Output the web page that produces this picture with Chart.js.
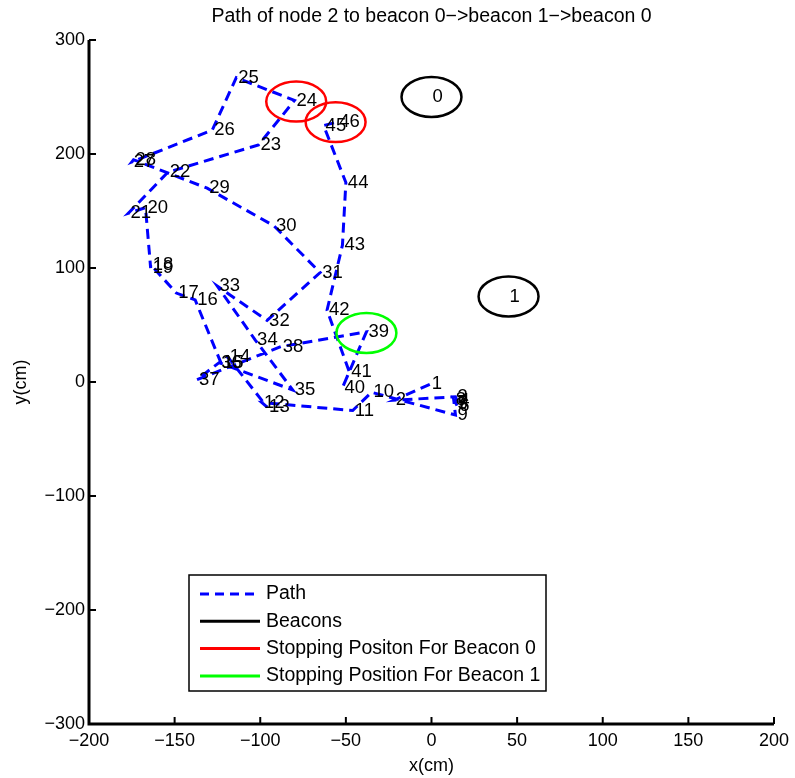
<!DOCTYPE html>
<html>
<head>
<meta charset="utf-8">
<script src="https://cdn.jsdelivr.net/npm/chart.js@4.4.1/dist/chart.umd.min.js"></script>
<style>
  html, body { margin: 0; padding: 0; background: #fff; }
  #c { display: block; }
</style>
</head>
<body>
<canvas id="c" width="795" height="778"></canvas>
<script>
// ---- Data ----
const nodeLabels = ["1","2","3","4","5","6","7","8","9","10","11","12","13","14","15","16","17","18","19","20","21","22","23","24","25","26","27","28","29","30","31","32","33","34","35","36","37","38","39","40","41","42","43","44","45","46"];
const pathX = [-1,-22,14,15,14,15,14,13,14,-35,-46,-99,-96,-119,-123,-138,-149,-164,-164,-167,-177,-154,-101,-80,-114,-128,-175,-174,-131,-92,-65,-96,-125,-103,-81,-124,-137,-88,-38,-52,-48,-61,-52,-50,-63,-55];
const pathY = [-2,-16,-13,-17,-19,-21,-18,-16,-29,-9,-25,-18,-22,22,17,72,78,103,100,153,148,184,208,247,267,221,193,195,170,137,96,54,84,37,-7,17,2,31,44,-5,9,63,120,175,225,228];

const beaconLabels = ["0","1"];
const beaconX = [0, 45];
const beaconY = [250, 75];
const beaconR = [17.5, 17.5];

const stop0X = [-79, -56];
const stop0Y = [246, 228];
const stop1X = [-38];
const stop1Y = [43];
const stopR = 17.5;

const xTicks = [-200,-150,-100,-50,0,50,100,150,200];
const yTicks = [-300,-200,-100,0,100,200,300];

const titleText = "Path of node 2 to beacon 0\u2212>beacon 1\u2212>beacon 0";
const legendItems = [
  {text: "Path", color: "#0000ff", dash: [9, 6]},
  {text: "Beacons", color: "#000000", dash: []},
  {text: "Stopping Positon For Beacon 0", color: "#ff0000", dash: []},
  {text: "Stopping Position For Beacon 1", color: "#00ff00", dash: []}
];

const FONT = "'Liberation Sans', Arial, Helvetica, sans-serif";
const fmt = v => (v < 0 ? "\u2212" + Math.abs(v) : String(v));

const pathData = pathX.map((x, i) => ({x: x, y: pathY[i]}));

const overlay = {
  id: 'overlay',
  afterDatasetsDraw(chart) {
    const ctx = chart.ctx;
    const xs = chart.scales.x, ys = chart.scales.y;
    ctx.save();
    ctx.fillStyle = '#000';
    ctx.font = '18.5px ' + FONT;
    ctx.textAlign = 'left';
    ctx.textBaseline = 'middle';
    pathX.forEach((x, i) => {
      ctx.fillText(nodeLabels[i], xs.getPixelForValue(x) + 2, ys.getPixelForValue(pathY[i]));
    });
    const ell = (cx, cy, r, color) => {
      const px = xs.getPixelForValue(cx), py = ys.getPixelForValue(cy);
      const rx = Math.abs(xs.getPixelForValue(cx + r) - px);
      const ry = Math.abs(ys.getPixelForValue(cy + r) - py);
      ctx.beginPath();
      ctx.ellipse(px, py, rx, ry, 0, 0, Math.PI * 2);
      ctx.strokeStyle = color;
      ctx.lineWidth = 2.5;
      ctx.setLineDash([]);
      ctx.stroke();
    };
    beaconX.forEach((x, i) => {
      ell(x, beaconY[i], beaconR[i], '#000');
      ctx.fillStyle = '#000';
      ctx.fillText(beaconLabels[i], xs.getPixelForValue(x) + 1, ys.getPixelForValue(beaconY[i]));
    });
    stop0X.forEach((x, i) => ell(x, stop0Y[i], stopR, '#ff0000'));
    stop1X.forEach((x, i) => ell(x, stop1Y[i], stopR, '#00ff00'));
    ctx.restore();
  },
  afterDraw(chart) {
    const ctx = chart.ctx;
    const xs = chart.scales.x, ys = chart.scales.y;
    const a = chart.chartArea;
    ctx.save();
    ctx.strokeStyle = '#000';
    ctx.lineWidth = 3;
    ctx.setLineDash([]);
    ctx.beginPath();
    ctx.moveTo(a.left, a.top);
    ctx.lineTo(a.left, a.bottom);
    ctx.lineTo(a.right, a.bottom);
    ctx.stroke();
    ctx.lineWidth = 2;
    xTicks.forEach(v => {
      const p = xs.getPixelForValue(v);
      ctx.beginPath(); ctx.moveTo(p, a.bottom); ctx.lineTo(p, a.bottom - 7); ctx.stroke();
    });
    yTicks.forEach(v => {
      const p = ys.getPixelForValue(v);
      ctx.beginPath(); ctx.moveTo(a.left, p); ctx.lineTo(a.left + 7, p); ctx.stroke();
    });
    ctx.fillStyle = '#000';
    ctx.font = '19.5px ' + FONT;
    ctx.textAlign = 'center';
    ctx.textBaseline = 'middle';
    ctx.fillText(titleText, (a.left + a.right) / 2, 17);
    const bx = 189, by = 575, bw = 357, bh = 116;
    ctx.fillStyle = '#fff';
    ctx.fillRect(bx, by, bw, bh);
    ctx.strokeStyle = '#000';
    ctx.lineWidth = 1.5;
    ctx.strokeRect(bx, by, bw, bh);
    ctx.font = '19.5px ' + FONT;
    ctx.textAlign = 'left';
    legendItems.forEach((it, i) => {
      const y = by + 19 + i * 27.3;
      ctx.beginPath();
      ctx.strokeStyle = it.color;
      ctx.lineWidth = 3;
      ctx.setLineDash(it.dash);
      ctx.moveTo(bx + 11, y);
      ctx.lineTo(bx + 71, y);
      ctx.stroke();
      ctx.setLineDash([]);
      ctx.fillStyle = '#000';
      ctx.fillText(it.text, bx + 77, y);
    });
    ctx.restore();
  }
};

new Chart(document.getElementById('c'), {
  type: 'scatter',
  data: {
    datasets: [{
      label: 'Path',
      data: pathData,
      showLine: true,
      borderColor: '#0000ff',
      borderWidth: 3,
      borderDash: [10, 6],
      pointRadius: 0,
      fill: false,
      tension: 0
    }]
  },
  options: {
    responsive: false,
    animation: false,
    layout: { padding: { top: 40, right: 20, left: 0, bottom: 0 } },
    plugins: { legend: { display: false }, tooltip: { enabled: false }, title: { display: false } },
    scales: {
      x: {
        type: 'linear', min: -200, max: 200,
        afterBuildTicks: s => { s.ticks = xTicks.map(v => ({value: v})); },
        afterFit: s => { s.height = 54; },
        grid: { display: false, drawTicks: false },
        border: { display: false },
        ticks: { color: '#000', font: { family: FONT, size: 18 }, padding: 6, maxRotation: 0, autoSkip: false, callback: v => fmt(v) },
        title: { display: true, text: 'x(cm)', color: '#000', font: { family: FONT, size: 18 }, padding: { top: 0, bottom: 1 } }
      },
      y: {
        type: 'linear', min: -300, max: 300,
        afterBuildTicks: s => { s.ticks = yTicks.map(v => ({value: v})); },
        afterFit: s => { s.width = 89; },
        grid: { display: false, drawTicks: false },
        border: { display: false },
        ticks: { color: '#000', font: { family: FONT, size: 18 }, padding: 4, autoSkip: false, callback: v => fmt(v) },
        title: { display: true, text: 'y(cm)', color: '#000', font: { family: FONT, size: 18 }, padding: { top: 10, bottom: 0 } }
      }
    }
  },
  plugins: [overlay]
});
</script>
</body>
</html>
